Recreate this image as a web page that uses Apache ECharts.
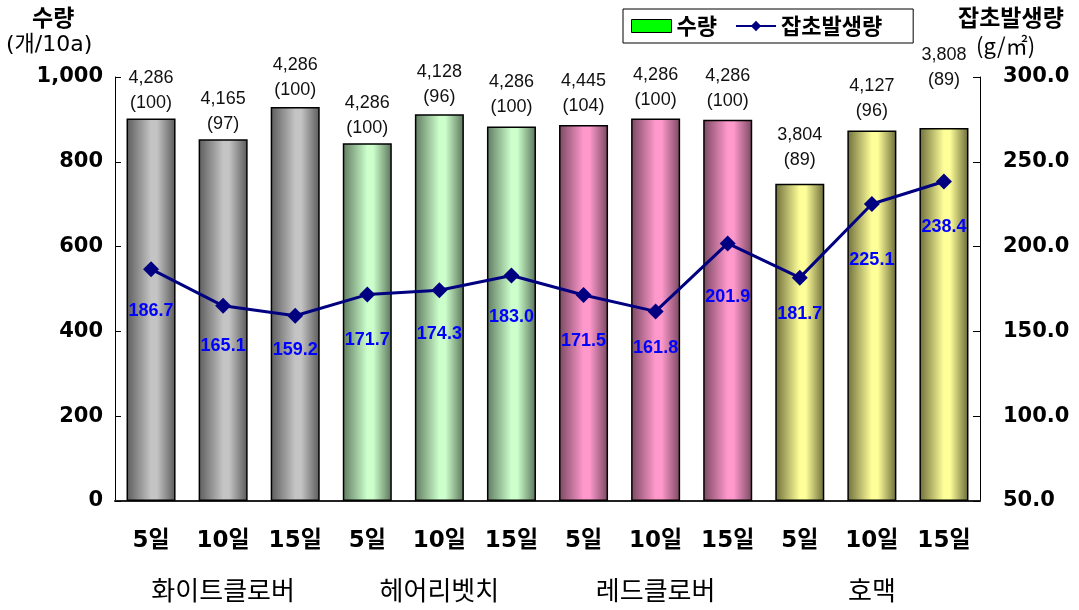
<!DOCTYPE html>
<html><head><meta charset="utf-8">
<script src="https://cdn.jsdelivr.net/npm/echarts@6/dist/echarts.min.js"></script>
<style>html,body{margin:0;padding:0;background:#fff}#c{width:1079px;height:610px}</style>
</head><body><div id="c"></div>
<script>
const categories = ['5일','10일','15일','5일','10일','15일','5일','10일','15일','5일','10일','15일'];
const groups = ['화이트클로버','헤어리벳치','레드클로버','호맥'];
const yieldBars = [902, 853, 929, 844, 912, 883, 887, 902, 899, 748, 874, 880];
const yieldText = ['4,286','4,165','4,286','4,286','4,128','4,286','4,445','4,286','4,286','3,804','4,127','3,808'];
const yieldIndex = ['(100)','(97)','(100)','(100)','(96)','(100)','(104)','(100)','(100)','(89)','(96)','(89)'];
const weeds = [186.7, 165.1, 159.2, 171.7, 174.3, 183.0, 171.5, 161.8, 201.9, 181.7, 225.1, 238.4];
const leftTicks = [0, 200, 400, 600, 800, 1000];
const rightTicks = [50, 100, 150, 200, 250, 300];

const FONT = "Arial, 'Liberation Sans', 'Noto Sans CJK KR', sans-serif";
const WFONT = "'DejaVu Sans', 'Noto Sans CJK KR', sans-serif";
const KFONT = "'Noto Sans CJK KR', Arial, sans-serif";
const groupColors = [
  ['#5c5c5c', '#c4c4c4', '#5a5a5a'],
  ['#5f7a5f', '#ccffcc', '#5a735a'],
  ['#7a4862', '#ff99cc', '#7a4862'],
  ['#6e6e3c', '#ffff99', '#6a6a3a']
];
// label placement styles (pixels), kept apart from the data
const barLabelGap = [3,3,5,3,5,7,6,6,6,11,7,35];
const lineLabelDrop = [25,23,17,28,27,25,29,20,37,19,39,29];

function grad(c) {
  return new echarts.graphic.LinearGradient(0, 0, 1, 0, [
    {offset: 0, color: c[0]}, {offset: 0.5, color: c[1]}, {offset: 0.62, color: c[1]}, {offset: 1, color: c[2]}
  ]);
}

const barData = yieldBars.map((v, i) => ({
  value: v,
  itemStyle: {color: grad(groupColors[Math.floor(i / 3)])},
  label: {distance: barLabelGap[i]}
}));
const lineData = weeds.map((v, i) => ({
  value: v,
  label: {distance: lineLabelDrop[i]}
}));

const chart = echarts.init(document.getElementById('c'));
chart.setOption({
  animation: false,
  backgroundColor: '#fff',
  grid: {left: 115, right: 99, top: 77, bottom: 109},
  legend: {
    left: 623, top: 9,
    padding: [6, 31, 6, 8],
    borderColor: '#000', borderWidth: 1,
    itemWidth: 40, itemHeight: 13, itemGap: 18,
    textStyle: {fontFamily: KFONT, fontSize: 22, fontWeight: 'bold', color: '#000'},
    data: [
      {name: '수량', icon: 'rect', itemStyle: {color: '#00ff00', borderColor: '#000', borderWidth: 1}},
      {name: '잡초발생량'}
    ]
  },
  graphic: [
    {type: 'text', left: 32, top: 6, style: {text: '수량', font: "bold 23px 'Noto Sans CJK KR', Arial", fill: '#000'}},
    {type: 'text', left: 6, top: 34, style: {text: '(개/10a)', font: "22px 'DejaVu Sans', 'Noto Sans CJK KR'", fill: '#000'}},
    {type: 'text', left: 958, top: 6, style: {text: '잡초발생량', font: "bold 23px 'Noto Sans CJK KR', Arial", fill: '#000'}},
    {type: 'text', left: 976, top: 35, style: {text: '(g/㎡)', font: "22px 'Noto Sans CJK KR', 'DejaVu Sans'", fill: '#000'}}
  ],
  xAxis: [
    {
      type: 'category', data: categories, position: 'bottom',
      axisLine: {lineStyle: {color: '#222', width: 2}},
      axisTick: {inside: true, length: 8, lineStyle: {color: '#000'}},
      axisLabel: {interval: 0, hideOverlap: false, margin: 29, fontFamily: WFONT, fontSize: 23, fontWeight: 'bold', color: '#000'}
    },
    {
      type: 'category', data: groups, position: 'bottom', gridIndex: 0,
      axisLine: {show: false}, axisTick: {show: false},
      axisLabel: {interval: 0, margin: 76, fontFamily: KFONT, fontSize: 26, color: '#000'}
    }
  ],
  yAxis: [
    {
      type: 'value', min: 0, max: 1000, interval: 200,
      axisLine: {show: true, lineStyle: {color: '#000'}},
      axisTick: {show: true, inside: true, length: 6, lineStyle: {color: '#000'}},
      splitLine: {show: false},
      axisLabel: {margin: 12, fontFamily: WFONT, fontSize: 21, fontWeight: 'bold', color: '#000',
        formatter: v => leftTicks.includes(v) ? v.toLocaleString('en-US') : ''}
    },
    {
      type: 'value', min: 50, max: 300, interval: 50, position: 'right',
      axisLine: {show: true, lineStyle: {color: '#000'}},
      axisTick: {show: true, inside: true, length: 7, lineStyle: {color: '#000'}},
      splitLine: {show: false},
      axisLabel: {margin: 23, fontFamily: WFONT, fontSize: 21, fontWeight: 'bold', color: '#000',
        formatter: v => rightTicks.includes(v) ? v.toFixed(1) : ''}
    }
  ],
  series: [
    {
      name: '수량', type: 'bar', xAxisIndex: 0, yAxisIndex: 0,
      barWidth: '68%',
      data: barData,
      itemStyle: {borderColor: '#000', borderWidth: 1.5},
      label: {
        show: true, position: 'top',
        formatter: p => yieldText[p.dataIndex] + '\n' + yieldIndex[p.dataIndex],
        fontFamily: FONT, fontSize: 18, lineHeight: 25, color: '#111'
      }
    },
    {
      name: '잡초발생량', type: 'line', xAxisIndex: 0, yAxisIndex: 1,
      data: lineData,
      color: '#000080',
      lineStyle: {color: '#000080', width: 3},
      symbol: 'diamond', symbolSize: 16,
      itemStyle: {color: '#000080'},
      label: {
        show: true, position: 'bottom',
        formatter: p => Number(p.value).toFixed(1),
        fontFamily: FONT, fontSize: 18, fontWeight: 'bold', color: '#0000ff'
      },
      z: 5
    }
  ]
});
</script></body></html>
